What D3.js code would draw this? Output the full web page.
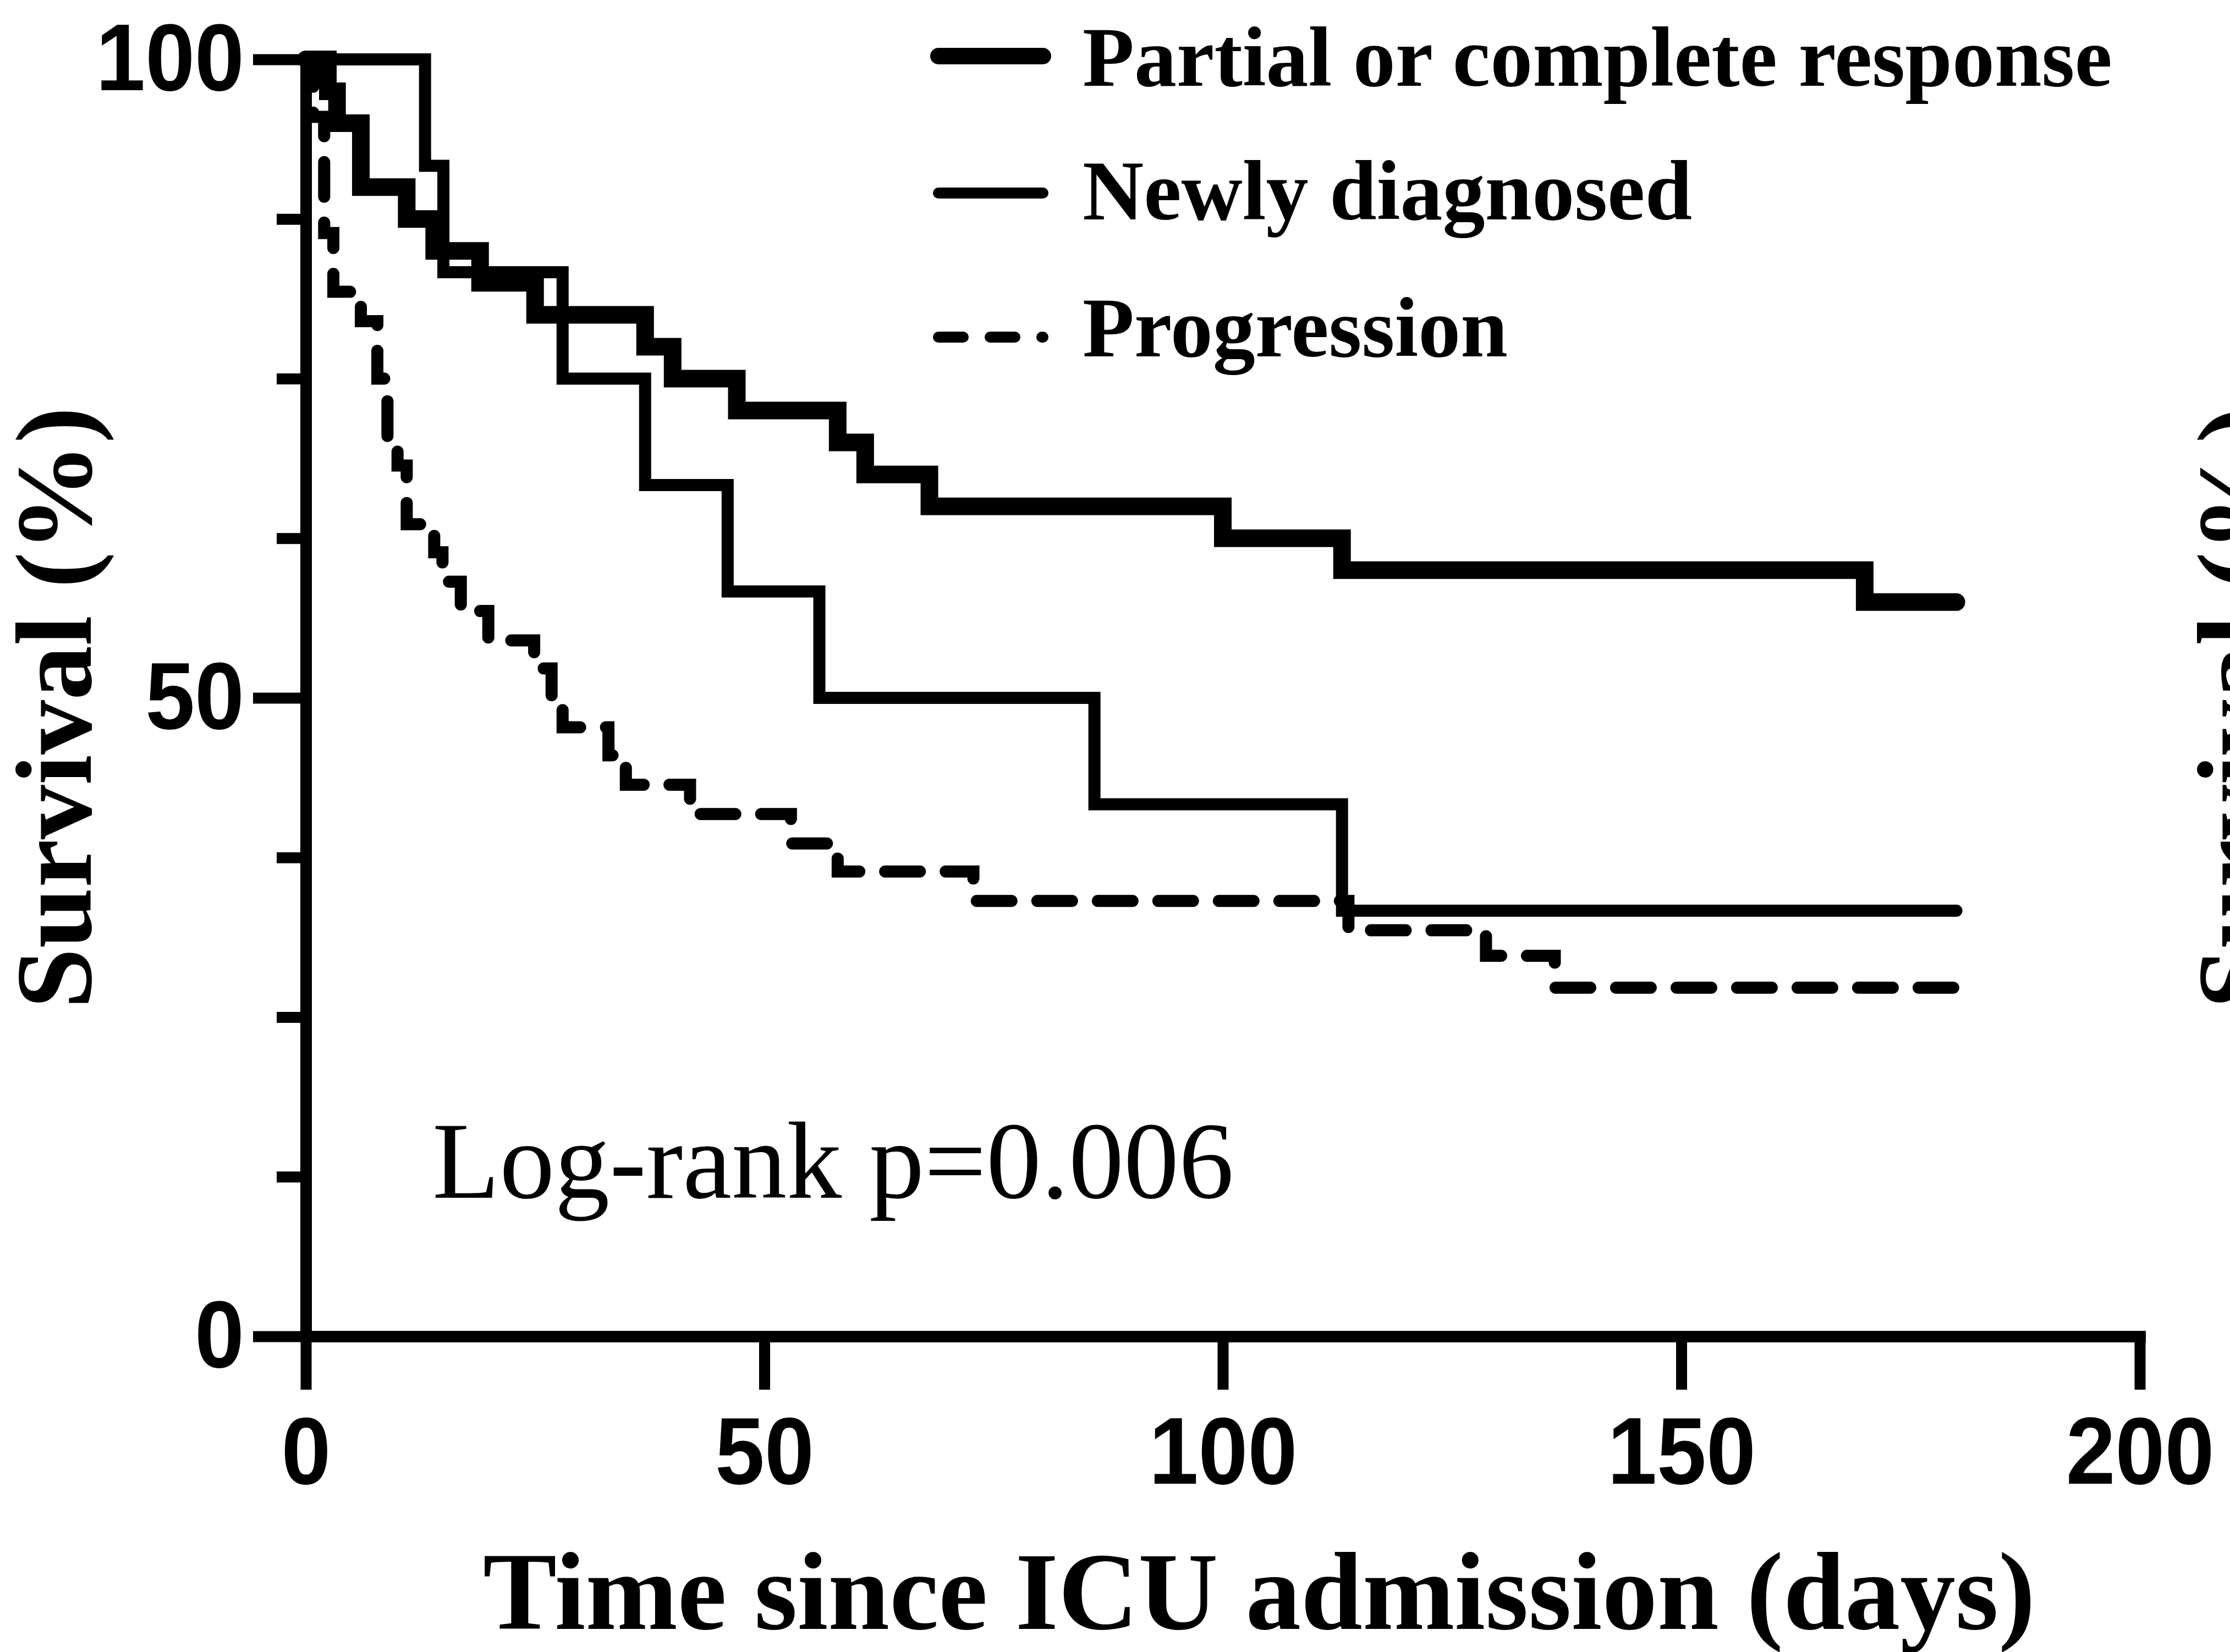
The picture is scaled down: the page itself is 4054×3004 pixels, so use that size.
<!DOCTYPE html>
<html lang="en">

<head>
    <meta charset="UTF-8">
    <title>Survival since ICU admission</title>
    <script src="https://cdn.jsdelivr.net/npm/d3@7"></script>
    <style>
        body { margin: 0; background: #fff; }
    </style>
</head>

<body>
    <script>
        // values: step times (days) and survival (%)
        let seriesNames = ['Partial or complete response', 'Newly diagnosed', 'Progression'];

        let respTime = [0, 2.4, 3.4, 6, 11, 14, 19, 25, 37, 40, 47, 58, 61, 68, 100, 113, 170, 180];
        let respSurv = [100, 97.5, 95, 90, 87.5, 85, 82.5, 80, 77.5, 75, 72.5, 70, 67.5, 65, 62.5, 60, 57.5, 57.5];

        let newTime = [0, 13, 15, 28, 37, 46, 56, 86, 113, 180];
        let newSurv = [100, 91.67, 83.33, 75, 66.67, 58.33, 50, 41.67, 33.33, 33.33];

        let progTime = [0, 0.8, 2, 3, 6, 7.8, 8.9, 10, 11, 14, 14.9, 16.9, 19.9, 24.9, 26.8, 28, 33, 34.9, 41.9, 52.9, 58, 72.8, 113.7, 128.7, 136.2, 180];
        let progSurv = [100, 95.5, 86.4, 81.8, 79.5, 75.0, 70.5, 68.2, 63.6, 61.4, 59.1, 56.8, 54.5, 52.3, 50.0, 47.7, 45.5, 43.2, 40.9, 38.6, 36.4, 34.1, 31.8, 29.8, 27.3, 27.3];

        let xTicks = [0, 50, 100, 150, 200];
        let yTicks = [0, 50, 100];
        let yMinorTicks = [12.5, 25, 37.5, 62.5, 75, 87.5];
        let pLabel = 'Log-rank p=0.006';
        let xTitle = 'Time since ICU admission (days)';
        let yTitle = 'Survival (%)';

        let width = 4054,
            height = 3004;
        let serif = "'Liberation Serif', 'Times New Roman', serif";
        let sans = "'Liberation Sans', Arial, sans-serif";
        let squeeze = 0.94; // tick digits are a bit narrower than Arial

        let svg = d3.select('body').append('svg').attr('width', width).attr('height', height);
        svg.append('rect').attr('width', width).attr('height', height).attr('fill', '#fff');

        let x = d3.scaleLinear().domain([0, 200]).range([556, 3890]);
        let y = d3.scaleLinear().domain([0, 100]).range([2430, 108]);

        let series = [
            { name: seriesNames[0], pts: d3.zip(respTime, respSurv), w: 32, dash: null, legendDash: null },
            { name: seriesNames[1], pts: d3.zip(newTime, newSurv), w: 22, dash: null, legendDash: null },
            { name: seriesNames[2], pts: d3.zip(progTime, progSurv), w: 22, dash: '63,47', legendDash: '45,49' }
        ];

        let line = d3.line()
            .x(d => x(d[0]))
            .y(d => y(d[1]))
            .curve(d3.curveStepAfter);

        // dashed first, thick last so it sits on top
        svg.selectAll('path.km')
            .data(series.slice().reverse())
            .enter().append('path')
            .attr('class', 'km')
            .attr('d', d => line(d.pts))
            .attr('fill', 'none')
            .attr('stroke', '#000')
            .attr('stroke-width', d => d.w)
            .attr('stroke-linejoin', 'miter')
            .attr('stroke-linecap', 'round')
            .attr('stroke-dasharray', d => d.dash);

        // axes
        let xAxis = svg.append('g')
            .attr('transform', `translate(0,${y(0)})`)
            .call(d3.axisBottom(x).tickValues(xTicks).tickSize(97).tickPadding(49).tickSizeOuter(0));

        let minor = svg.append('g')
            .attr('transform', `translate(${x(0)},0)`)
            .call(d3.axisLeft(y).tickValues(yMinorTicks).tickSize(53).tickFormat(''));
        minor.select('.domain').remove();

        let yAxis = svg.append('g')
            .attr('transform', `translate(${x(0)},0)`)
            .call(d3.axisLeft(y).tickValues(yTicks).tickSize(96).tickPadding(16).tickSizeOuter(0));

        svg.selectAll('.domain')
            .attr('stroke', '#000')
            .attr('stroke-width', 21)
            .attr('stroke-linecap', 'square');
        svg.selectAll('.tick line')
            .attr('stroke', '#000')
            .attr('stroke-width', 20);
        svg.selectAll('.tick text')
            .attr('fill', '#000')
            .attr('transform', `scale(${squeeze},1)`)
            .style('font-family', sans)
            .style('font-size', '172px')
            .style('font-weight', 'bold');
        yAxis.selectAll('.tick text').attr('x', -(96 + 16) / squeeze);

        // legend
        let legendY = [102, 351, 613],
            legendBase = [156, 399, 648];
        let legend = svg.append('g');
        series.forEach((s, i) => {
            legend.append('line')
                .attr('x1', 1706).attr('x2', 1896)
                .attr('y1', legendY[i]).attr('y2', legendY[i])
                .attr('stroke', '#000')
                .attr('stroke-width', s.w - 2)
                .attr('stroke-linecap', 'round')
                .attr('stroke-dasharray', s.legendDash);
            legend.append('text')
                .attr('x', 1968)
                .attr('y', legendBase[i])
                .style('font-family', serif)
                .style('font-weight', 'bold')
                .style('font-size', '154px')
                .text(s.name);
        });

        svg.append('text')
            .attr('x', 786)
            .attr('y', 2178)
            .style('font-family', serif)
            .style('font-size', '200px')
            .text(pLabel);

        svg.append('text')
            .attr('x', 2289)
            .attr('y', 2962)
            .attr('text-anchor', 'middle')
            .style('font-family', serif)
            .style('font-weight', 'bold')
            .style('font-size', '201px')
            .text(xTitle);

        // y title, plus the edge of the next panel's title cut off at the right
        [165, 4131].forEach(tx => {
            svg.append('text')
                .attr('transform', `translate(${tx},1287) rotate(-90)`)
                .attr('text-anchor', 'middle')
                .style('font-family', serif)
                .style('font-weight', 'bold')
                .style('font-size', '198px')
                .text(yTitle);
        });
    </script>
</body>

</html>
